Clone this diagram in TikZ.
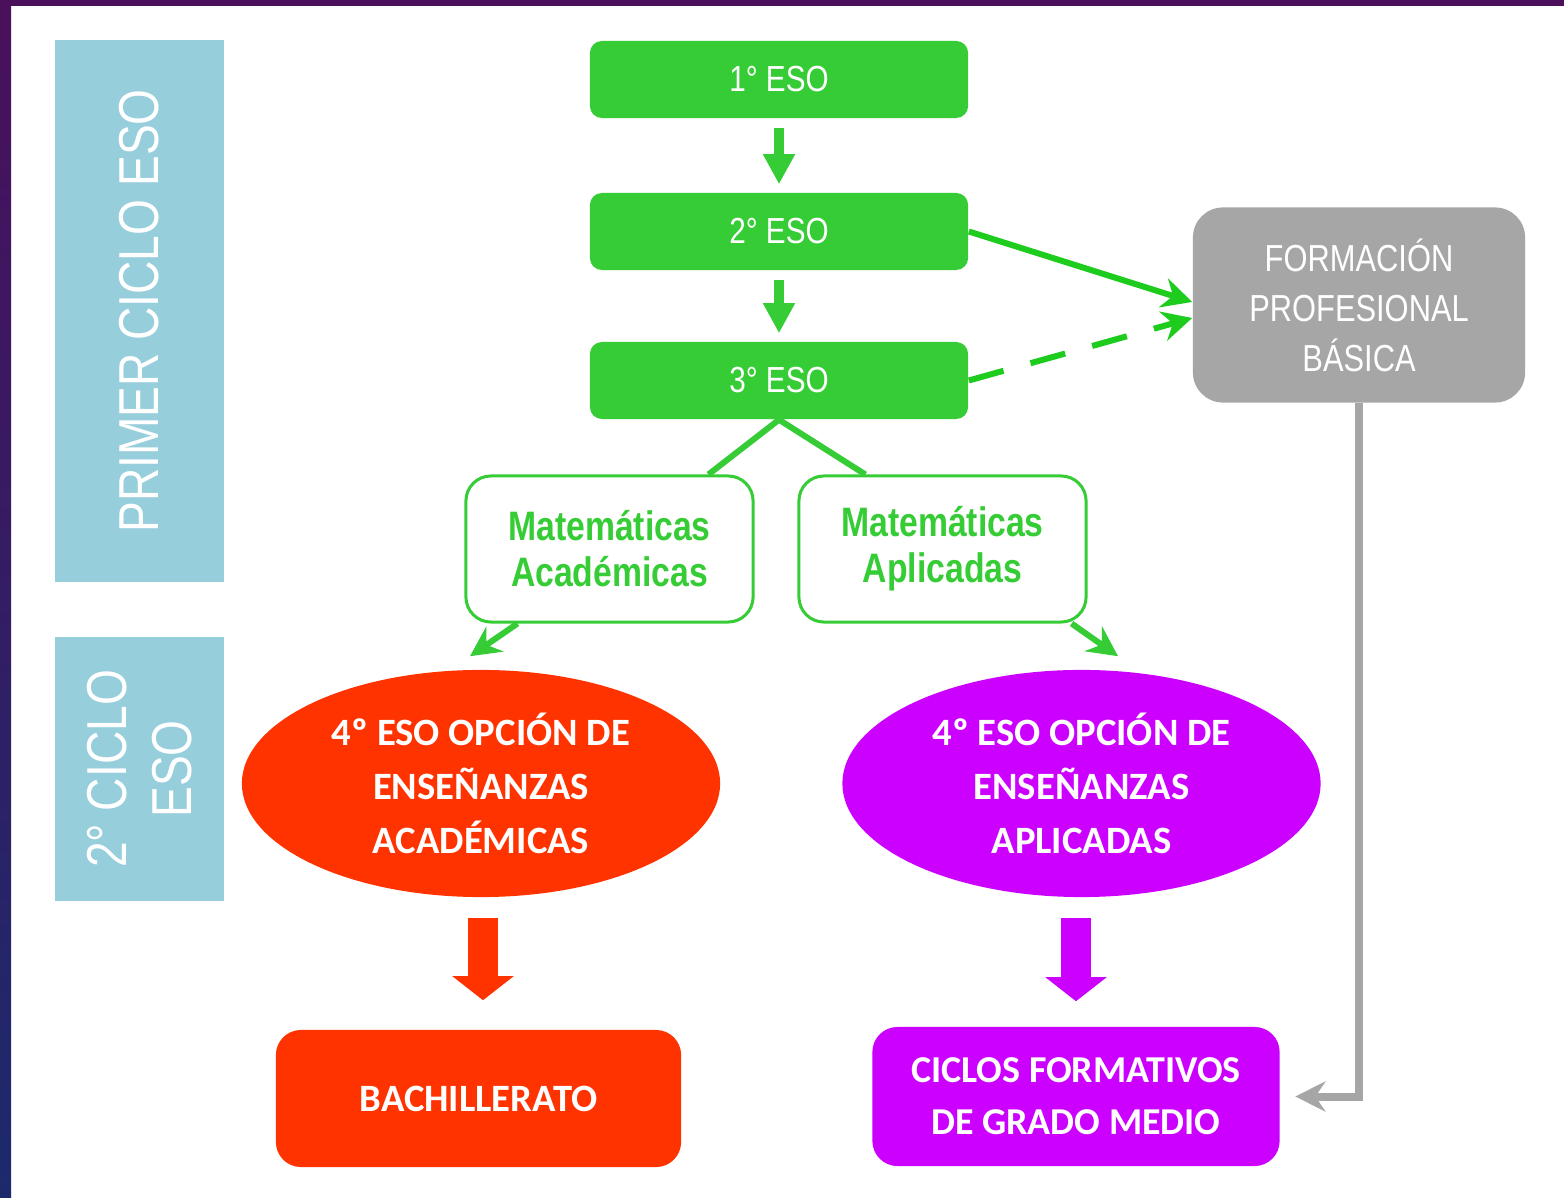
\documentclass[tikz,border=0pt]{standalone}
\usepackage{fontspec}
\setmainfont{Liberation Sans}
\newfontfamily\narrowfont[FakeStretch=0.82]{Liberation Sans}
\newfontfamily\calfont{Carlito}
\usetikzlibrary{arrows.meta,shapes.geometric}
\usepackage{xcolor}
\definecolor{lblue}{RGB}{150,206,220}
\definecolor{esogreen}{RGB}{54,204,54}
\definecolor{linegreen}{RGB}{30,204,30}
\definecolor{fpgray}{RGB}{166,166,166}
\definecolor{acared}{RGB}{255,51,0}
\definecolor{aplpurple}{RGB}{204,0,255}
\definecolor{frametop}{RGB}{74,16,92}
\definecolor{framebot}{RGB}{28,42,108}

\begin{document}
\begin{tikzpicture}[x=0.01cm, y=-0.01cm,
    cyclebox/.style={fill=lblue, rotate=90, minimum height=1.69cm, inner sep=0pt, text=white, align=center},
    esobox/.style={fill=esogreen, rounded corners=0.12cm, minimum width=3.78cm, minimum height=0.77cm, inner sep=0pt, text=white, font=\narrowfont\fontsize{10.3}{12}\selectfont},
    matbox/.style={draw=esogreen, line width=0.03cm, fill=white, rounded corners=0.25cm, minimum width=2.87cm, minimum height=1.46cm, inner sep=0pt, align=center, text=esogreen, font=\narrowfont\bfseries\fontsize{11.7}{13.1}\selectfont},
    optnode/.style={ellipse, fill=#1, minimum width=4.78cm, minimum height=2.27cm, inner sep=0pt, align=center, text=white, font=\calfont\bfseries\fontsize{11}{15.4}\selectfont},
    endbox/.style={fill=#1, rounded corners=0.25cm, minimum width=4.05cm, minimum height=1.37cm, inner sep=0pt, align=center, text=white, font=\calfont\bfseries\fontsize{11}{14.8}\selectfont},
    garrow/.style={draw=esogreen, line width=0.1cm, -{Triangle[width=0.3cm, length=0.3cm]}, shorten <=0.09cm, shorten >=0.08cm},
    gline/.style={draw=esogreen, line width=0.06cm},
    fgarrow/.style={draw=linegreen, line width=0.06cm, -{Stealth[width=0.3cm, length=0.3cm, inset=0.1cm]}},
    bigarrow/.style={draw=#1, line width=0.3cm, -{Triangle[width=0.6cm, length=0.24cm]}, shorten <=0.2cm, shorten >=0.29cm}
]
    \useasboundingbox (0,0) rectangle (1564,1198);

    % Frame
    \fill[white] (0,0) rectangle (1564,1198);
    \shade[top color=frametop, bottom color=framebot] (0,0) rectangle (11,1198);
    \fill[frametop] (0,0) rectangle (1564,6);

    % Cycle labels
    \node[cyclebox, minimum width=5.42cm, font=\narrowfont\fontsize{16}{18.5}\selectfont] (c1) at (139.5,311) {PRIMER CICLO ESO};
    \node[cyclebox, minimum width=2.64cm, font=\narrowfont\fontsize{16}{18.5}\selectfont] (c2) at (139.5,769) {2° CICLO\\ESO};

    % First cycle
    \foreach \n/\y in {1/79.5, 2/231.5, 3/380.5} {
        \node[esobox] (e\n) at (779,\y) {\n° ESO};
    }
    \foreach \a/\b in {1/2, 2/3} {
        \draw[garrow] (e\a) -- (e\b);
    }

    \node[fill=fpgray, rounded corners=0.3cm, minimum width=3.32cm, minimum height=1.95cm, inner sep=0pt, align=center, text=white, font=\narrowfont\fontsize{10.7}{14.2}\selectfont] (fpb) at (1359,305) {FORMACIÓN\\PROFESIONAL\\BÁSICA};
    \draw[fgarrow] (e2.east) -- ([yshift=0.03cm]fpb.west);
    \draw[fgarrow, dash pattern=on 0.36cm off 0.28cm] (e3.east) -- ([yshift=-0.13cm]fpb.west);

    % Maths options
    \node[matbox] (mata) at (609.5,549) {Matemáticas\\Académicas};
    \node[matbox] (matb) at (942.5,549) {Matemáticas\\Aplicadas};
    \draw[gline] (e3.south) -- (mata.37);
    \draw[gline] (e3.south) -- (matb.136);

    % Second cycle
    \node[optnode=acared] (ea) at (481,783.5) {4º ESO OPCIÓN DE\\ENSEÑANZAS\\ACADÉMICAS};
    \node[optnode=aplpurple] (eb) at (1081.5,783.5) {4º ESO OPCIÓN DE\\ENSEÑANZAS\\APLICADAS};
    \draw[fgarrow, draw=esogreen] (mata.219) -- ([xshift=-0.11cm, yshift=0.13cm]ea.north);
    \draw[fgarrow, draw=esogreen] (matb.-30) -- ([xshift=0.365cm, yshift=0.13cm]eb.north);

    % After 4th
    \node[endbox=acared] (bach) at (478.5,1098.5) {BACHILLERATO};
    \node[endbox=aplpurple, minimum width=4.07cm, minimum height=1.39cm, font=\calfont\bfseries\fontsize{10.8}{14.8}\selectfont] (ciclos) at (1076,1096.5) {CICLOS FORMATIVOS\\DE GRADO MEDIO};
    \draw[bigarrow=acared] ([xshift=0.045cm]bach.north |- ea.south) -- ([xshift=0.045cm]bach.north);
    \draw[bigarrow=aplpurple, shorten >=0.25cm] (ciclos.north |- eb.south) -- (ciclos.north);
    \draw[draw=fpgray, line width=0.08cm, -{Stealth[width=0.3cm, length=0.3cm, inset=0.1cm]}, shorten >=0.15cm] (fpb.south) |- (ciclos.east);
\end{tikzpicture}
\end{document}
